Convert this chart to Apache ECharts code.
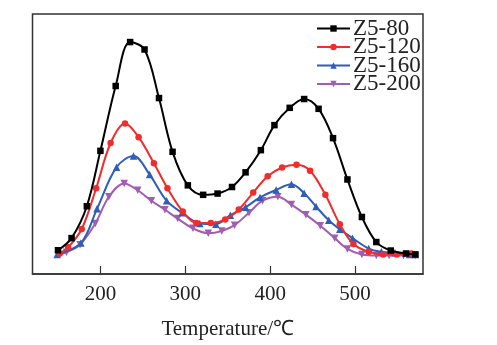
<!DOCTYPE html>
<html><head><meta charset="utf-8">
<script src="https://cdn.jsdelivr.net/npm/echarts@6/dist/echarts.min.js"></script>
<style>html,body{margin:0;padding:0;background:#fff}#c{width:497px;height:345px}</style>
</head><body><div id="c"></div>
<script>
const seriesNames = ['Z5-80', 'Z5-120', 'Z5-160', 'Z5-200'];
const xTicks = [200, 300, 400, 500];

const t80 = [150, 166, 184, 200, 218, 235, 252, 269, 285, 303, 321, 338, 355, 371, 389, 405, 423, 440, 457, 474, 491, 508, 525, 542, 560, 571];
const v80 = [24.3, 36.7, 69.3, 126, 192.3, 237.3, 229.7, 180, 125, 90.7, 81, 82.3, 89, 104, 126.7, 152.3, 170, 179, 169, 139, 96.7, 58.3, 32.7, 24, 21, 20];

const t120 = [152, 162, 178, 195, 212, 229, 245, 263, 279, 297, 313, 330, 347, 363, 380, 397, 414, 431, 447, 465, 482, 498, 516, 533, 549, 566, 571];
const v120 = [21, 27.3, 46, 87.7, 134, 154, 140, 113.3, 87.7, 64, 52.3, 52.3, 55.7, 66, 83.3, 100, 109, 111.7, 105.7, 81, 51, 30.7, 22.7, 20, 20, 21, 20];

const t160 = [149, 177, 196, 219, 239, 258, 278, 296, 317, 336, 353, 371, 388, 407, 425, 440, 454, 469, 482, 497, 516, 531, 547, 564, 571];
const v160 = [20, 31.7, 66.7, 109.3, 120.7, 101.7, 75, 62.7, 51.7, 51, 60, 68.3, 78.3, 86, 91.7, 82.7, 69, 55, 45.7, 36.7, 26, 22.7, 21.7, 20, 20];

const t200 = [152, 160, 176, 194, 210, 228, 244, 260, 276, 291, 309, 327, 343, 358, 375, 391, 409, 425, 442, 459, 476, 491, 508, 525, 540, 557, 571];
const v200 = [20, 22.3, 30, 51.7, 79, 92.7, 85.7, 75, 65.7, 56.7, 46.7, 41.7, 44, 50, 62.7, 75, 79, 71, 60.7, 49.3, 36.7, 25.7, 20, 19, 19, 19, 19];

const colors = ['#000000', '#f22b2b', '#2f5db8', '#a25cb3'];
const symbols = ['rect', 'circle', 'triangle', 'triangle'];
const rot = [0, 0, 0, 180];
const sizes = [6.5, 6.5, 7.5, 7.5];
const allT = [t80, t120, t160, t200];
const allV = [v80, v120, v160, v200];

const font = "'Liberation Serif','Times New Roman',serif";
const chart = echarts.init(document.getElementById('c'));
chart.setOption({
  animation: false,
  backgroundColor: '#fff',
  grid: { left: 32.5, right: 74, top: 14, bottom: 65, show: true, borderColor: '#333', borderWidth: 1.5, backgroundColor: 'transparent' },
  legend: {
    orient: 'vertical', left: 311, top: 12, itemGap: -4.5, itemWidth: 33, itemHeight: 8,
    textStyle: { fontFamily: font, fontSize: 23, color: '#222', padding: [0, 0, 0, -2] },
    data: seriesNames
  },
  xAxis: {
    type: 'value', min: 120, max: 580,
    name: 'Temperature/℃', nameLocation: 'middle', nameGap: 45,
    nameTextStyle: { fontFamily: font, fontSize: 21, color: '#222' },
    axisLine: { show: true, lineStyle: { color: '#333', width: 1.5 } },
    axisTick: { show: true, inside: true, length: 8, lineStyle: { color: '#333', width: 1.2 }, customValues: xTicks },
    axisLabel: { fontFamily: font, fontSize: 21, color: '#222', margin: 10, customValues: xTicks },
    splitLine: { show: false }
  },
  yAxis: {
    type: 'value', min: 0, max: 266,
    axisLine: { show: false }, axisTick: { show: false }, axisLabel: { show: false }, splitLine: { show: false }
  },
  series: seriesNames.map((n, i) => ({
    name: n, type: 'line', smooth: 0.35,
    data: allT[i].map((t, j) => [t, allV[i][j]]),
    symbol: symbols[i], symbolRotate: rot[i], symbolSize: sizes[i],
    lineStyle: { color: colors[i], width: 2 },
    itemStyle: { color: colors[i] },
    z: 10 - i
  }))
});
</script></body></html>
